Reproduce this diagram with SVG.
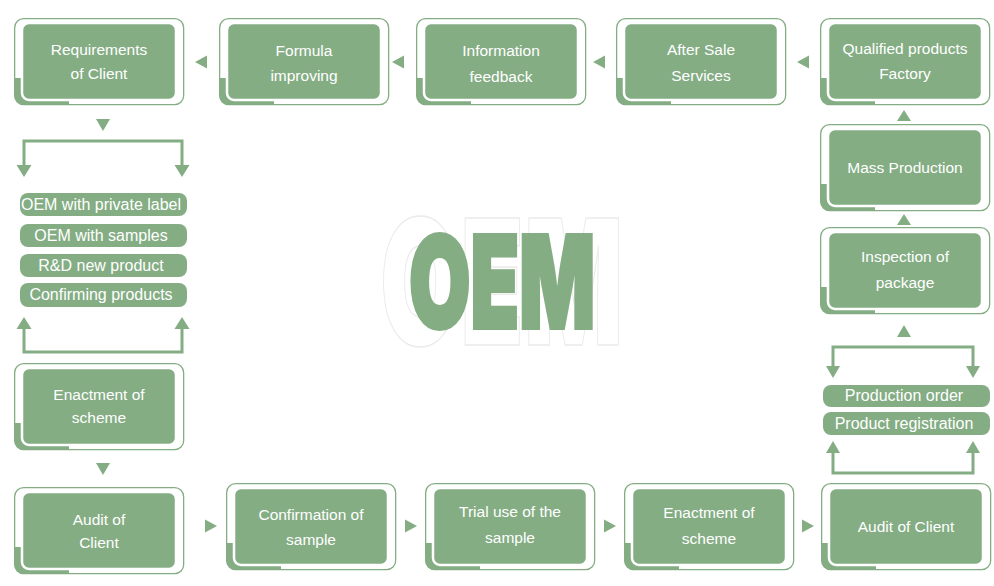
<svg xmlns="http://www.w3.org/2000/svg" xmlns:xlink="http://www.w3.org/1999/xlink" width="994" height="586" viewBox="0 0 994 586">
<style>
.t{font-family:"Liberation Sans",Arial,sans-serif;font-size:15.5px;fill:#fff;text-anchor:middle}
.pt{font-family:"Liberation Sans",Arial,sans-serif;font-size:16px;fill:#fff;text-anchor:middle}
.pill{fill:#84ad84}
.ar{fill:#84ad84}
.br{fill:none;stroke:#84ad84;stroke-width:3}
</style>
<defs>
<g id="card">
<rect x="0.65" y="0.65" width="169" height="86" rx="9" fill="#fff" stroke="#84ad84" stroke-width="1.3"/>
<path d="M0.65,60 H55 V86.35 H9 A8.35,8.35 0 0 1 0.65,78 Z" fill="#84ad84"/>
<rect x="8" y="5" width="154" height="77" rx="7" fill="#84ad84" stroke="#fff" stroke-width="2.5"/>
</g>
</defs>
<rect width="994" height="586" fill="#fff"/>
<g id="title">
<text x="380" y="345" textLength="243" lengthAdjust="spacingAndGlyphs" font-family="Inter,'Liberation Sans',sans-serif" font-weight="900" font-size="175" fill="#fff" stroke="#ebebeb" stroke-width="1.5">OEM</text>
<text x="409" y="328" textLength="186" lengthAdjust="spacingAndGlyphs" font-family="Inter,'Liberation Sans',sans-serif" font-weight="900" font-size="128" fill="#84ad84" stroke="#84ad84" stroke-width="4">OEM</text>
</g>
<g id="connectors">
<polygon class="ar" points="195,62 207,55.5 207,68.5"/>
<polygon class="ar" points="392,62 404,55.5 404,68.5"/>
<polygon class="ar" points="593,62 605,55.5 605,68.5"/>
<polygon class="ar" points="797,62 809,55.5 809,68.5"/>
<polygon class="ar" points="904,110 897,121 911,121"/>
<polygon class="ar" points="904,214 897,225 911,225"/>
<polygon class="ar" points="904,325 897,337 911,337"/>
<polygon class="ar" points="103,131 96,119 110,119"/>
<polygon class="ar" points="103,475 96,463 110,463"/>
<polygon class="ar" points="217,526 205,519.5 205,532.5"/>
<polygon class="ar" points="417,526 405,519.5 405,532.5"/>
<polygon class="ar" points="616,526 604,519.5 604,532.5"/>
<polygon class="ar" points="814,526 802,519.5 802,532.5"/>
<path class="br" d="M24,166 V141 H182 V166"/>
<polygon class="ar" points="16.5,165 31.5,165 24,177"/>
<polygon class="ar" points="174.5,165 189.5,165 182,177"/>
<path class="br" d="M24,328 V352 H182 V328"/>
<polygon class="ar" points="16.5,329 31.5,329 24,317"/>
<polygon class="ar" points="174.5,329 189.5,329 182,317"/>
<path class="br" d="M833,367 V347 H973 V367"/>
<polygon class="ar" points="826,366 840,366 833,378"/>
<polygon class="ar" points="966,366 980,366 973,378"/>
<path class="br" d="M833,452 V473 H973 V452"/>
<polygon class="ar" points="826,453 840,453 833,441"/>
<polygon class="ar" points="966,453 980,453 973,441"/>
</g>
<g id="n1"><use xlink:href="#card" x="14" y="18"/><text class="t" x="99" y="55">Requirements</text><text class="t" x="99" y="79">of Client</text></g>
<g id="n2"><use xlink:href="#card" x="219" y="18"/><text class="t" x="304" y="56">Formula</text><text class="t" x="304" y="81">improving</text></g>
<g id="n3"><use xlink:href="#card" x="416" y="18"/><text class="t" x="501" y="56">Information</text><text class="t" x="501" y="82">feedback</text></g>
<g id="n4"><use xlink:href="#card" x="616" y="18"/><text class="t" x="701" y="55">After Sale</text><text class="t" x="701" y="81">Services</text></g>
<g id="n5"><use xlink:href="#card" x="820" y="18"/><text class="t" x="905" y="54">Qualified products</text><text class="t" x="905" y="79">Factory</text></g>
<g id="n6"><use xlink:href="#card" x="820" y="124"/><text class="t" x="905" y="173">Mass Production</text></g>
<g id="n7"><use xlink:href="#card" x="820" y="227"/><text class="t" x="905" y="262">Inspection of</text><text class="t" x="905" y="288">package</text></g>
<g id="n8"><use xlink:href="#card" x="821" y="483"/><text class="t" x="906" y="532">Audit of Client</text></g>
<g id="n9"><use xlink:href="#card" x="624" y="483"/><text class="t" x="709" y="518">Enactment of</text><text class="t" x="709" y="544">scheme</text></g>
<g id="n10"><use xlink:href="#card" x="425" y="483"/><text class="t" x="510" y="517">Trial use of the</text><text class="t" x="510" y="543">sample</text></g>
<g id="n11"><use xlink:href="#card" x="226" y="483"/><text class="t" x="311" y="520">Confirmation of</text><text class="t" x="311" y="545">sample</text></g>
<g id="n12"><use xlink:href="#card" x="14" y="487"/><text class="t" x="99" y="525">Audit of</text><text class="t" x="99" y="548">Client</text></g>
<g id="n13"><use xlink:href="#card" x="14" y="363"/><text class="t" x="99" y="400">Enactment of</text><text class="t" x="99" y="423">scheme</text></g>
<g id="p1"><rect class="pill" x="20" y="193" width="167" height="23" rx="8"/><text class="pt" x="101" y="209.5">OEM with private label</text></g>
<g id="p2"><rect class="pill" x="20" y="224" width="167" height="23" rx="8"/><text class="pt" x="101" y="240.5">OEM with samples</text></g>
<g id="p3"><rect class="pill" x="20" y="254" width="167" height="23" rx="8"/><text class="pt" x="101" y="270.5">R&amp;D new product</text></g>
<g id="p4"><rect class="pill" x="20" y="283" width="167" height="24" rx="8"/><text class="pt" x="101" y="299.5">Confirming products</text></g>
<g id="p5"><rect class="pill" x="823" y="385" width="167" height="22" rx="8"/><text class="pt" x="904" y="400.5">Production order</text></g>
<g id="p6"><rect class="pill" x="823" y="412" width="167" height="23" rx="8"/><text class="pt" x="904" y="428.5">Product registration</text></g>
</svg>
